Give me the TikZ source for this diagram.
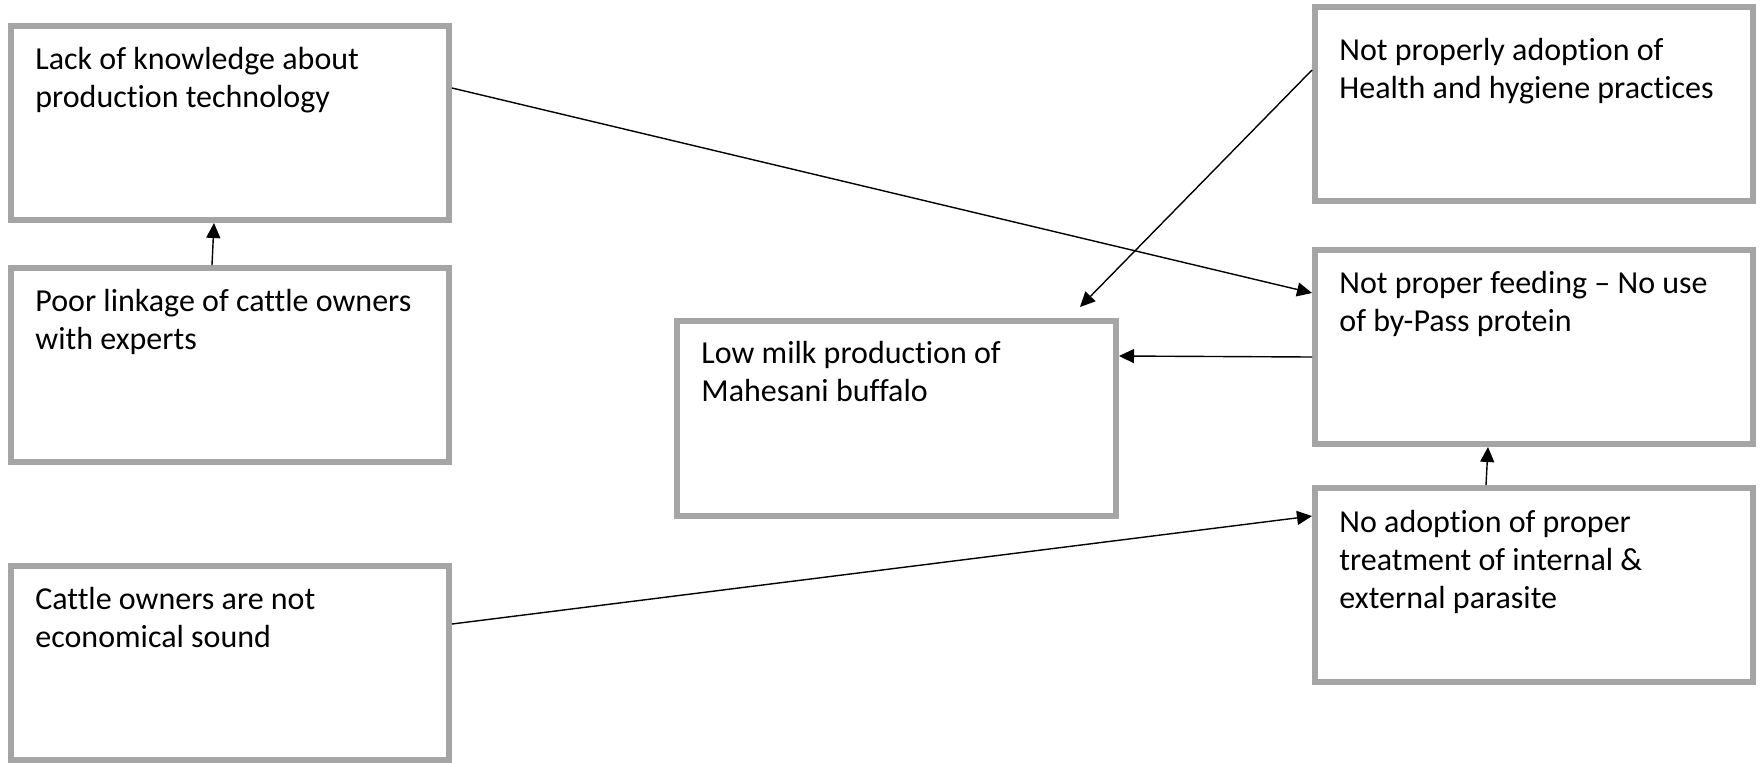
\documentclass[tikz,border=0pt]{standalone}
\usepackage{fontspec}
\setmainfont{Carlito}[Ligatures={TeX,NoCommon}]
\usetikzlibrary{arrows.meta}

\definecolor{boxgray}{HTML}{A5A5A5}
\newcommand{\boxtext}[1]{\parbox[t]{205pt}{\raggedright #1}}

\begin{document}
\begin{tikzpicture}[x=0.5pt, y=-0.5pt,
    box/.style = {draw=boxgray, line width=3pt, anchor=north west, inner sep=0pt,
                  minimum width=219pt, minimum height=97pt},
    txt/.style = {anchor=base west, inner sep=0pt,
                  font=\fontsize{16}{19.2}\selectfont},
    arr/.style = {line width=0.7pt, -{Triangle[length=7.5pt, width=7pt]}}]
    \useasboundingbox (0,0) rectangle (1761,762);

    % draw boxes
    \node[box] (know) at (8,23) {};
    \node[box] (link) at (8,265) {};
    \node[box] (econ) at (8,563) {};
    \node[box, minimum width=219.5pt, minimum height=97.5pt] (milk) at (674,318) {};
    \node[box] (hyg)  at (1312,4) {};
    \node[box] (feed) at (1312,247) {};
    \node[box] (para) at (1312,485) {};

    % draw texts
    \node[txt] (knowTxt) at ([xshift=13.5pt, yshift=-23pt]know.north west)
        {\boxtext{Lack of knowledge about\\production technology}};
    \node[txt] (linkTxt) at ([xshift=13.5pt, yshift=-23pt]link.north west)
        {\boxtext{Poor linkage of cattle owners\\with experts}};
    \node[txt] (econTxt) at ([xshift=13.5pt, yshift=-23pt]econ.north west)
        {\boxtext{Cattle owners are not\\economical sound}};
    \node[txt] (milkTxt) at ([xshift=13.5pt, yshift=-22.5pt]milk.north west)
        {\boxtext{Low milk production of\\Mahesani buffalo}};
    \node[txt] (hygTxt)  at ([xshift=13.5pt, yshift=-28pt]hyg.north west)
        {\boxtext{Not properly adoption of\\Health and hygiene practices}};
    \node[txt] (feedTxt) at ([xshift=13.5pt, yshift=-23pt]feed.north west)
        {\boxtext{Not proper feeding -- No use\\of by-Pass protein}};
    \node[txt] (paraTxt) at ([xshift=13.5pt, yshift=-23.5pt]para.north west)
        {\boxtext{No adoption of proper\\treatment of internal \&\\external parasite}};

    % free end above the milk box
    \coordinate (milkTip) at ([xshift=-19.5pt, yshift=5.5pt]milk.north east);

    % draw arrows
    \draw[arr] ([yshift=-32.5pt]know.north east) -- ([yshift=-23pt]feed.north west);
    \draw[arr] ([xshift=-9pt]link.north) -- ([xshift=-8pt]know.south);
    \draw[arr] ([yshift=-33pt]hyg.north west) -- (milkTip);
    \draw[arr] ([yshift=-55pt]feed.north west) -- ([yshift=-19pt]milk.north east);
    \draw[arr] ([xshift=-24pt]para.north) -- ([xshift=-23pt]feed.south);
    \draw[arr] ([yshift=-30.5pt]econ.north east) -- ([yshift=-15.5pt]para.north west);
\end{tikzpicture}
\end{document}
